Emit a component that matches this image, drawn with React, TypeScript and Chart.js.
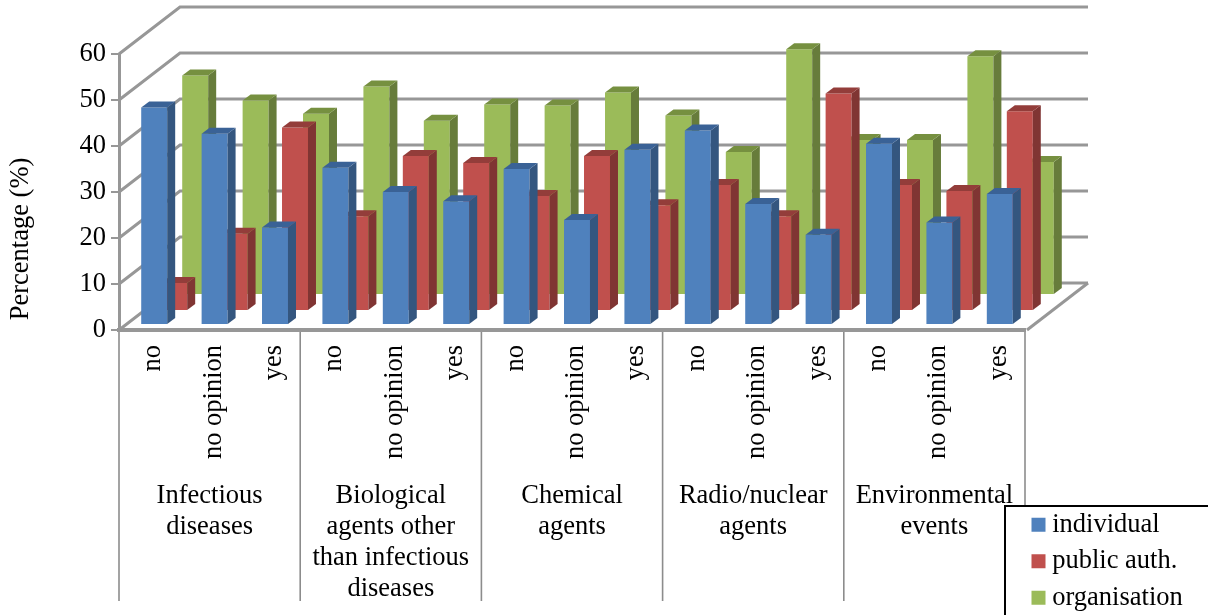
import React, { useEffect, useRef } from "react";
import { Chart, registerables } from "chart.js";

Chart.register(...registerables);

const categories = [
  "no", "no opinion", "yes", "no", "no opinion", "yes", "no", "no opinion", "yes",
  "no", "no opinion", "yes", "no", "no opinion", "yes",
];
const groups = [
  ["Infectious", "diseases"],
  ["Biological", "agents other", "than infectious", "diseases"],
  ["Chemical", "agents"],
  ["Radio/nuclear", "agents"],
  ["Environmental", "events"],
];
const individual = [47.3, 41.6, 21.2, 34.2, 28.9, 26.9, 33.9, 22.8, 38.1, 42.3, 26.3, 19.6, 39.4, 22.3, 28.5];
const publicAuth = [6.1, 16.8, 39.9, 20.6, 33.7, 32.2, 25, 33.7, 23, 27.4, 20.6, 47.3, 27.4, 26.1, 43.4];
const organisation = [47.7, 42.3, 39.4, 45.3, 37.9, 41.4, 41.2, 44, 39, 31.1, 53.4, 33.7, 33.7, 51.9, 28.9];

const FONT = "'Liberation Serif', 'Times New Roman', serif";
const GRID = "#979797";
const WALL = { dx: 61, dy: 47 };
const BAR_DEPTH = { dx: 8, dy: 6 };
const SERIES_SHIFT = [
  { dx: 5, dy: -5 },
  { dx: 25, dy: -19 },
  { dx: 46, dy: -35 },
];
const SIDE = ["#34567f", "#803533", "#677c3b"];
const TOP = ["#3a6296", "#933d3a", "#769040"];

const scene = {
  id: "scene",
  beforeDraw(chart: any) {
    const { ctx } = chart;
    const y = chart.scales.y;
    const x2 = chart.scales.x2;
    const left = y.right;
    const right = x2.right;
    ctx.save();
    ctx.strokeStyle = GRID;
    ctx.lineWidth = 3;
    y.ticks.forEach((t: any) => {
      const py = y.getPixelForValue(t.value);
      ctx.beginPath();
      ctx.moveTo(left, py);
      ctx.lineTo(left + WALL.dx, py - WALL.dy);
      ctx.lineTo(right + WALL.dx + 2, py - WALL.dy);
      ctx.stroke();
    });
    const y0 = y.getPixelForValue(0);
    ctx.beginPath();
    ctx.moveTo(right + 2, y0);
    ctx.lineTo(right + WALL.dx + 2, y0 - WALL.dy);
    ctx.stroke();

    // group separators below the axis
    ctx.strokeStyle = "#8c8c8c";
    ctx.lineWidth = 1.6;
    const n = groups.length;
    for (let i = 0; i <= n; i++) {
      const px = i === n ? right : x2.getPixelForValue(i) - (x2.getPixelForValue(1) - x2.getPixelForValue(0)) / 2;
      ctx.beginPath();
      ctx.moveTo(px, y0);
      ctx.lineTo(px, i === n ? 506 : 601);
      ctx.stroke();
    }

    // legend frame, and the legend's own place on the page
    ctx.strokeStyle = "#000";
    ctx.lineWidth = 2;
    ctx.fillStyle = "#fff";
    ctx.beginPath();
    ctx.rect(1005, 506, 220, 130);
    ctx.fill();
    ctx.stroke();
    ctx.restore();

    const lg = chart.legend;
    lg.left = 1028;
    lg.right = 1208;
    lg.top = 501.5;
    lg.bottom = 700;
  },
  beforeDatasetDraw(chart: any, args: any) {
    const s = SERIES_SHIFT[args.index];
    chart.ctx.save();
    chart.ctx.translate(s.dx, s.dy);
  },
  afterDatasetDraw(chart: any, args: any) {
    const { ctx } = chart;
    const { dx, dy } = BAR_DEPTH;
    args.meta.data.forEach((bar: any) => {
      const l = bar.x - bar.width / 2;
      const r = bar.x + bar.width / 2;
      ctx.fillStyle = SIDE[args.index];
      ctx.beginPath();
      ctx.moveTo(r, bar.y);
      ctx.lineTo(r + dx, bar.y - dy);
      ctx.lineTo(r + dx, bar.base - dy);
      ctx.lineTo(r, bar.base);
      ctx.closePath();
      ctx.fill();
      ctx.fillStyle = TOP[args.index];
      ctx.beginPath();
      ctx.moveTo(l, bar.y);
      ctx.lineTo(l + dx, bar.y - dy);
      ctx.lineTo(r + dx, bar.y - dy);
      ctx.lineTo(r, bar.y);
      ctx.closePath();
      ctx.fill();
    });
    ctx.restore();
  },
};

export default function App() {
  const ref = useRef<HTMLCanvasElement>(null);
  useEffect(() => {
    document.body.style.margin = "0";
    const font = { family: FONT, size: 26.5, lineHeight: 1.17 };
    const bar = { categoryPercentage: 1, barPercentage: 0.43, grouped: false, clip: false as any, borderWidth: 0 };
    const chart = new Chart(ref.current as HTMLCanvasElement, {
      type: "bar",
      plugins: [scene],
      data: {
        labels: categories,
        datasets: [
          { label: "individual", data: individual, backgroundColor: "#4f81bd", ...bar },
          { label: "public auth.", data: publicAuth, backgroundColor: "#c0504d", ...bar },
          { label: "organisation", data: organisation, backgroundColor: "#9bbb59", ...bar },
        ],
      },
      options: {
        responsive: false,
        animation: false,
        color: "#000",
        layout: { padding: { top: 54, right: 183, left: 0, bottom: 0 } },
        plugins: {
          tooltip: { enabled: false },
          legend: {
            position: "chartArea",
            align: "start",
            labels: {
              font: { family: FONT, size: 26.5 },
              color: "#000",
              usePointStyle: true,
              pointStyle: "rect",
              boxWidth: 1,
              boxHeight: 14,
              padding: 10,
            },
          },
        },
        scales: {
          y: {
            min: 0,
            max: 60,
            ticks: { stepSize: 10, color: "#000", font, padding: 5 },
            grid: { drawOnChartArea: false, drawTicks: true, tickLength: 8, color: GRID, lineWidth: 2 },
            border: { color: GRID, width: 3 },
            title: {
              display: true,
              text: "Percentage (%)",
              color: "#000",
              font,
              padding: { top: 6, bottom: 0 },
            },
            afterFit(scale: any) {
              scale.width = 119;
              if (scale.__titleMoved) return;
              scale.__titleMoved = true;
              const draw = scale.drawTitle;
              scale.drawTitle = function () {
                const { top, bottom } = this;
                this.top = top + 47;
                this.bottom = bottom + 47;
                draw.call(this);
                this.top = top;
                this.bottom = bottom;
              };
            },
          },
          x: {
            position: "bottom",
            grid: { display: false },
            border: { color: GRID, width: 4 },
            ticks: {
              autoSkip: false,
              minRotation: 90,
              maxRotation: 90,
              color: "#000",
              font,
              padding: 7,
              labelOffset: 4,
            },
            afterFit(scale: any) {
              scale.height = 149;
            },
          },
          x2: {
            type: "category",
            labels: groups as any,
            position: "bottom",
            grid: { display: false, drawTicks: false },
            border: { display: false },
            ticks: { autoSkip: false, maxRotation: 0, minRotation: 0, color: "#000", font, padding: 2 },
            afterFit(scale: any) {
              scale.height = 136;
            },
          },
        },
      } as any,
    });
    return () => chart.destroy();
  }, []);
  return (
    <canvas
      ref={ref}
      width={1208}
      height={615}
      style={{ display: "block", width: 1208, height: 615, filter: "blur(0.5px)" }}
    />
  );
}
